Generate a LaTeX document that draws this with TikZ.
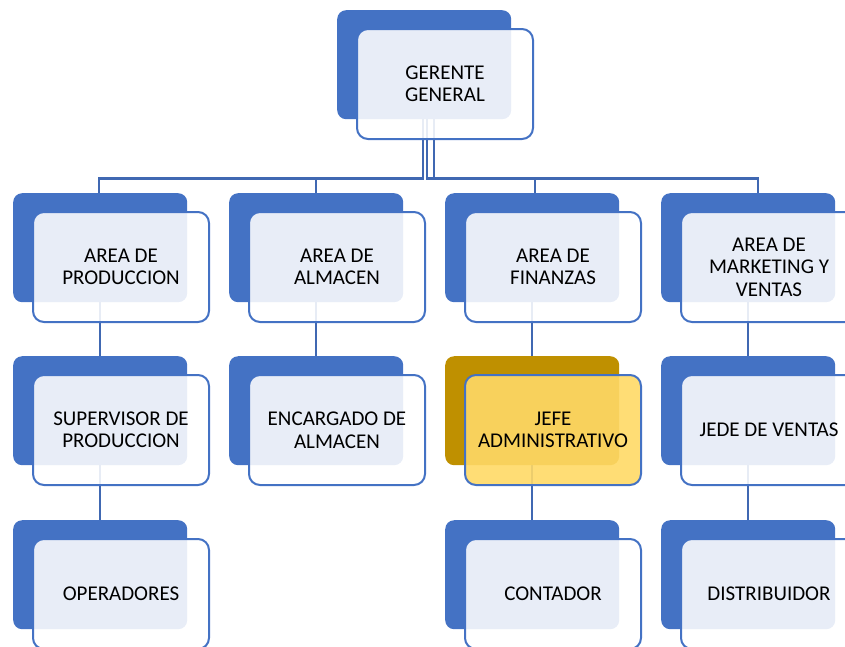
\documentclass[tikz,border=0pt]{standalone}
\usepackage{fontspec}
\setmainfont{Carlito}
\usetikzlibrary{backgrounds}
\definecolor{accent}{HTML}{4472C4}
\definecolor{conncol}{HTML}{4068B2}
\definecolor{gold}{HTML}{BF9000}
\definecolor{lightgold}{HTML}{FFD966}
\tikzset{
  backbox/.style={draw=none, fill=accent, rounded corners=9pt, minimum width=174pt, minimum height=109pt, inner sep=0pt, anchor=north west},
  frontbox/.style={draw=accent, line width=2pt, fill=white, fill opacity=0.88, text opacity=1, rounded corners=11pt, minimum width=176pt, minimum height=110pt, inner sep=0pt, align=center, font=\fontsize{21}{22.5}\selectfont, anchor=north west},
  goldback/.style={backbox, fill=gold},
  goldfront/.style={frontbox, fill=lightgold, fill opacity=0.9},
  conn/.style={draw=conncol, line width=2.2pt}
}
\begin{document}
\begin{tikzpicture}[x=1pt,y=-1pt]
\useasboundingbox (0,0) rectangle (845,646);
% top
\node[backbox] (tb) at (337,10) {};
\node[frontbox] (tf) at (356,28) {GERENTE\\GENERAL};
% row 1
\node[backbox] (a1b) at (13,193) {};
\node[frontbox] (a1f) at (32,211) {AREA DE\\PRODUCCION};
\node[backbox] (a2b) at (229,193) {};
\node[frontbox] (a2f) at (248,211) {AREA DE\\ALMACEN};
\node[backbox] (a3b) at (445,193) {};
\node[frontbox] (a3f) at (464,211) {AREA DE\\FINANZAS};
\node[backbox] (a4b) at (661,193) {};
\node[frontbox] (a4f) at (680,211) {AREA DE\\MARKETING Y\\VENTAS};
% row 2
\node[backbox] (s1b) at (13,356) {};
\node[frontbox] (s1f) at (32,374) {SUPERVISOR DE\\PRODUCCION};
\node[backbox] (s2b) at (229,356) {};
\node[frontbox] (s2f) at (248,374) {ENCARGADO DE\\ALMACEN};
\node[goldback] (s3b) at (445,356) {};
\node[goldfront] (s3f) at (464,374) {JEFE\\ADMINISTRATIVO};
\node[backbox] (s4b) at (661,356) {};
\node[frontbox] (s4f) at (680,374) {JEDE DE VENTAS};
% row 3
\node[backbox] (o1b) at (13,520) {};
\node[frontbox] (o1f) at (32,538) {OPERADORES};
\node[backbox] (o3b) at (445,520) {};
\node[frontbox] (o3f) at (464,538) {CONTADOR};
\node[backbox] (o4b) at (661,520) {};
\node[frontbox] (o4f) at (680,538) {DISTRIBUIDOR};
% connectors
\begin{scope}[on background layer]
\draw[conn] ([xshift=-1pt]tb.south) -- ++(0,59) -| ([xshift=-1pt]a1b.north);
\draw[conn] ([xshift=-1pt]tb.south) -- ++(0,59) -| (a2b.north);
\draw[conn] ([xshift=3pt]tb.south) -- ++(0,59) -| ([xshift=3pt]a3b.north);
\draw[conn] ([xshift=10pt]tb.south) -- ++(0,59) -| ([xshift=10pt]a4b.north);
\draw[conn] (a1b.south) -- (s1b.north);
\draw[conn] (a2b.south) -- (s2b.north);
\draw[conn] (a3b.south) -- (s3b.north);
\draw[conn] (a4b.south) -- (s4b.north);
\draw[conn] (s1b.south) -- (o1b.north);
\draw[conn] (s3b.south) -- (o3b.north);
\draw[conn] (s4b.south) -- (o4b.north);
\end{scope}
\end{tikzpicture}
\end{document}
